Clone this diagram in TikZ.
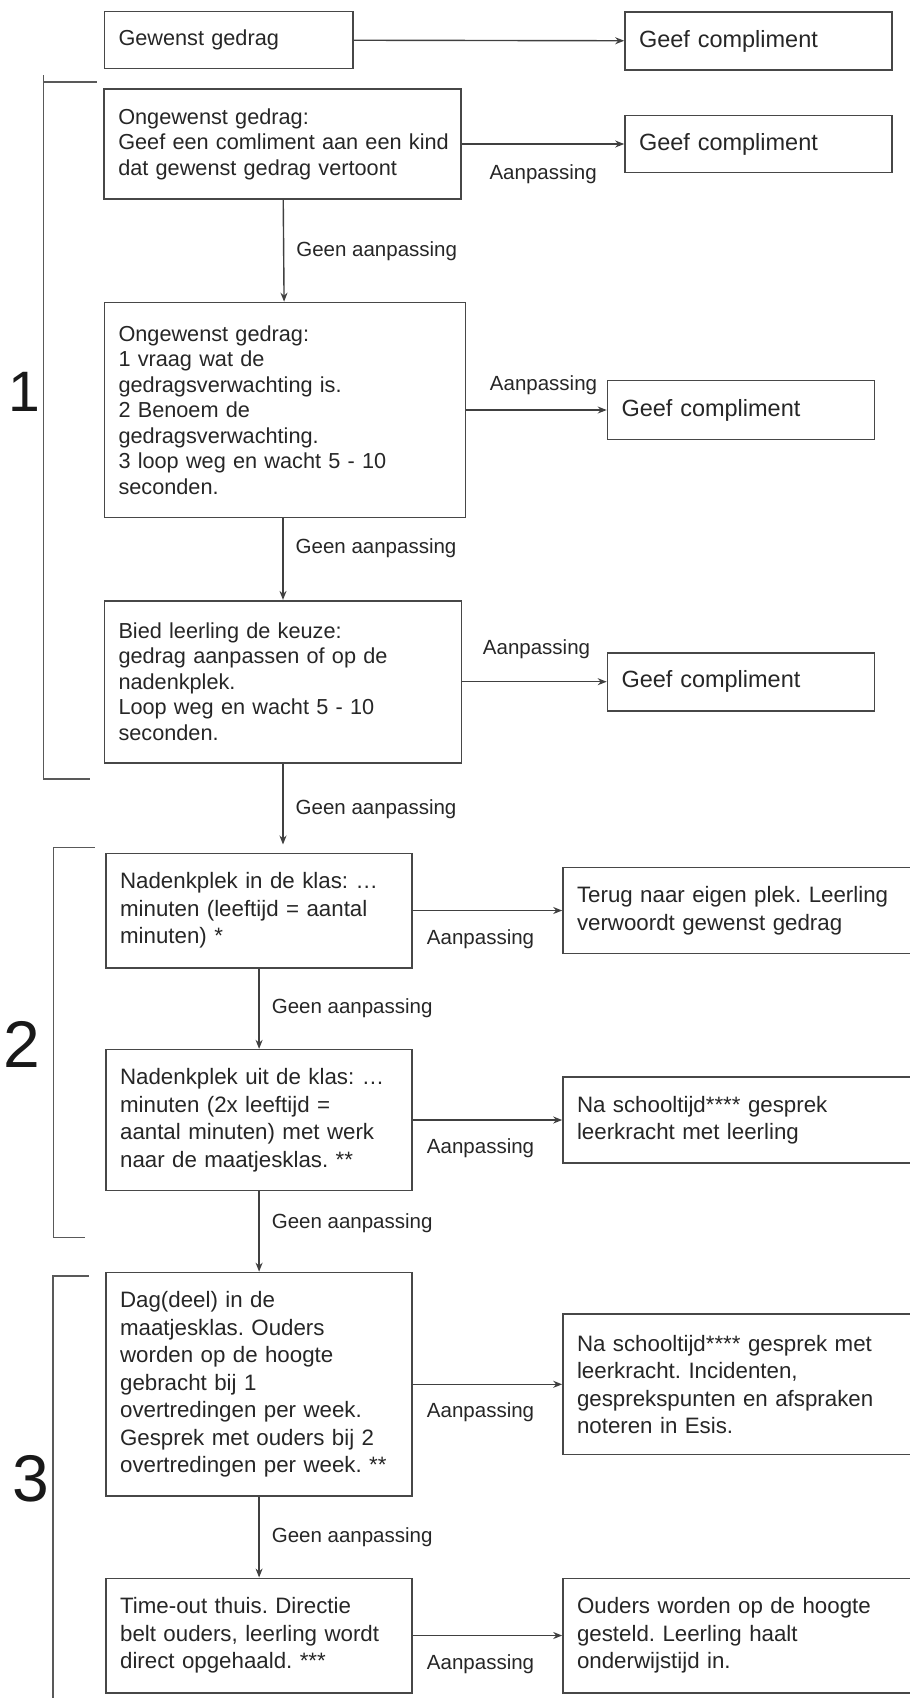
\documentclass[tikz,border=0pt]{standalone}
\usepackage{fontspec}
\setmainfont{Liberation Sans}
\usetikzlibrary{positioning,arrows.meta}
\frenchspacing

\begin{document}
\begin{tikzpicture}[x=1pt, y=-1pt,
  blok/.style={draw=black!72, line width=1.6pt, text=black!85, align=left, inner xsep=0pt, inner ysep=0pt,
    execute at begin node={\leftskip=14pt\relax}, font=\fontsize{21.7}{25.5}\selectfont},
  blokb/.style={blok, font=\fontsize{22.3}{27.5}\selectfont},
  compl/.style={blok, font=\fontsize{23.5}{28}\selectfont},
  maat/.style 2 args={minimum width=#1pt, text width=#1pt, minimum height=#2pt},
  pijl/.style={->, >={Stealth[length=9pt,width=7pt]}, draw=black!75, line width=1.4pt},
  lbl/.style={text=black!85, inner sep=0pt, font=\fontsize{20.5}{24}\selectfont},
  haak/.style={draw=black!65, line width=1.6pt},
  nr/.style={text=black!90, inner sep=0pt, font=\fontsize{66}{66}\selectfont}]
  \useasboundingbox (0,0) rectangle (910,1698);

  % stap 1
  \node[blok, maat={248.5}{57}] (gewenst) at (228.75,40) {Gewenst gedrag};
  \node[compl, maat={267}{58}] (compl0) at (758.5,41) {Geef compliment};
  \node[blok, maat={357}{110}] (ongewenst) at (282.75,144) {Ongewenst gedrag:\\Geef een comliment aan een kind\\dat gewenst gedrag vertoont};
  \node[compl, maat={267}{57}] (compl1) at (758.5,144) {Geef compliment};
  \node[blok, maat={361}{215}] (verwacht) at (285,410) {Ongewenst gedrag:\\1 vraag wat de\\gedragsverwachting is.\\2 Benoem de\\gedragsverwachting.\\3 loop weg en wacht 5 - 10\\seconden.};
  \node[compl, maat={267}{59}] (compl2) at (741,410) {Geef compliment};
  \node[blok, maat={357}{162}] (keuze) at (283,681.7) {Bied leerling de keuze:\\gedrag aanpassen of op de\\nadenkplek.\\Loop weg en wacht 5 - 10\\seconden.};
  \node[compl, maat={267}{58}] (compl3) at (741,681.7) {Geef compliment};

  % stap 2
  \node[blokb, maat={306}{114.4}] (inklas) at (259.1,910.5) {Nadenkplek in de klas: …\\minuten (leeftijd = aantal\\minuten) *};
  \node[blokb, maat={362}{86.3}] (terug) at (744,910.5) {Terug naar eigen plek. Leerling\\verwoordt gewenst gedrag};
  \node[blokb, maat={306}{140.7}] (uitklas) at (259.1,1120) {Nadenkplek uit de klas: …\\minuten (2x leeftijd =\\aantal minuten) met werk\\naar de maatjesklas. **};
  \node[blokb, maat={362}{85.6}] (gesprek1) at (744,1120) {Na schooltijd**** gesprek\\leerkracht met leerling};

  % stap 3
  \node[blokb, maat={306}{223.7}] (dagdeel) at (259.1,1384.3) {Dag(deel) in de\\maatjesklas. Ouders\\worden op de hoogte\\gebracht bij 1\\overtredingen per week.\\Gesprek met ouders bij 2\\overtredingen per week. **};
  \node[blokb, maat={362}{140.7}] (gesprek2) at (744,1384.3) {Na schooltijd**** gesprek met\\leerkracht. Incidenten,\\gesprekspunten en afspraken\\noteren in Esis.};
  \node[blokb, maat={306}{114.4}] (timeout) at (259.1,1635.5) {Time-out thuis. Directie\\belt ouders, leerling wordt\\direct opgehaald. ***};
  \node[blokb, maat={362}{114.4}] (ouders) at (744,1635.5) {Ouders worden op de hoogte\\gesteld. Leerling haalt\\onderwijstijd in.};

  % nummers en haken
  \node[nr, font=\fontsize{57}{57}\selectfont] (n1) at (24,392) {1};
  \node[nr] (n2) at (22,1044) {2};
  \node[nr] (n3) at (31,1479) {3};
  \draw[haak] (96.7,81.7) -- (43.5,81.7);
  \draw[haak] (43.5,75) -- (43.5,779) -- (90,779);
  \draw[haak] (94.6,847.3) -- (53.4,847.3) -- (53.4,1237.3) -- (85.3,1237.3);
  \draw[haak] (88.8,1276) -- (53,1276) -- (53,1700);

  % pijlen
  \draw[pijl] (gewenst) -- (compl0);
  \draw[pijl] (ongewenst) -- (compl1) node[lbl, midway, below=19.5pt] {Aanpassing};
  \draw[pijl] (verwacht) -- (compl2) node[lbl, midway, above=14.5pt, xshift=7pt] {Aanpassing};
  \draw[pijl] (keuze) -- (compl3) node[lbl, midway, above=22.5pt, xshift=2pt] {Aanpassing};
  \draw[pijl] (inklas) -- (terug) node[lbl, midway, below=18pt, xshift=-7pt] {Aanpassing};
  \draw[pijl] (uitklas) -- (gesprek1) node[lbl, midway, below=18pt, xshift=-7pt] {Aanpassing};
  \draw[pijl] (dagdeel) -- (gesprek2) node[lbl, midway, below=18pt, xshift=-7pt] {Aanpassing};
  \draw[pijl] (timeout) -- (ouders) node[lbl, midway, below=18pt, xshift=-7pt] {Aanpassing};

  \draw[pijl] (ongewenst) -- (verwacht) node[lbl, pos=0.5, right=12pt] {Geen aanpassing};
  \draw[pijl] (verwacht.south -| keuze.north) -- (keuze.north) node[lbl, pos=0.37, right=12pt] {Geen aanpassing};
  \draw[pijl] (keuze.south) -- ([yshift=8pt]keuze.south |- inklas.north) node[lbl, pos=0.56, right=12pt] {Geen aanpassing};
  \draw[pijl] (inklas) -- (uitklas) node[lbl, pos=0.5, right=12pt] {Geen aanpassing};
  \draw[pijl] (uitklas) -- (dagdeel) node[lbl, pos=0.4, right=12pt] {Geen aanpassing};
  \draw[pijl] (dagdeel) -- (timeout) node[lbl, pos=0.5, right=12pt] {Geen aanpassing};
\end{tikzpicture}
\end{document}
